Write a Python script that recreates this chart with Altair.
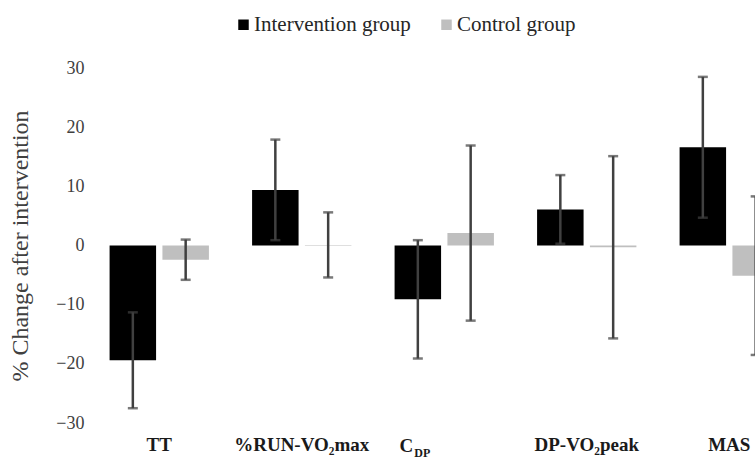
import altair as alt
import pandas as pd

categories = ["TT", "%RUN-VO2max", "C_DP", "DP-VO2peak", "MAS"]
display_labels = ["TT", "%RUN-VO\u2082max", "", "DP-VO\u2082peak", "MAS"]
groups = ["Intervention group", "Control group"]
intervention_mean = [-19.4, 9.4, -9.1, 6.1, 16.6]
intervention_err = [8.1, 8.5, 10.0, 5.8, 11.9]
control_mean = [-2.4, 0.1, 2.1, -0.3, -5.1]
control_err = [3.4, 5.5, 14.8, 15.4, 13.4]
y_ticks = [-30, -20, -10, 0, 10, 20, 30]

rows = []
for i, c in enumerate(categories):
    rows.append({"cat": c, "group": groups[0], "mean": intervention_mean[i],
                 "lo": intervention_mean[i] - intervention_err[i],
                 "hi": intervention_mean[i] + intervention_err[i]})
    rows.append({"cat": c, "group": groups[1], "mean": control_mean[i],
                 "lo": control_mean[i] - control_err[i],
                 "hi": control_mean[i] + control_err[i]})
df = pd.DataFrame(rows)

label_map = "{" + ",".join(f"'{c}':'{d}'" for c, d in zip(categories, display_labels)) + "}"

FONT = "Liberation Serif"
W, H = 667, 355

x_scale = alt.Scale(domain=categories, range=[0, alt.ExprRef("712.5")],
                    paddingInner=0.303, paddingOuter=0.1515)
x_enc = alt.X("cat:N", sort=categories, scale=x_scale,
              axis=alt.Axis(title=None, domain=False, ticks=False,
                            labelExpr=f"{label_map}[datum.value]",
                            labelFont=FONT, labelFontWeight="bold",
                            labelFontSize=19, labelColor="#1a1a1a",
                            labelPadding=12, labelAngle=0))
xo_enc = alt.XOffset("group:N", sort=groups,
                     scale=alt.Scale(domain=groups, paddingInner=0.12, paddingOuter=0))
y_scale = alt.Scale(domain=[-30, 30], nice=False)

bars = alt.Chart(df).mark_bar(clip=True).encode(
    x=x_enc,
    xOffset=xo_enc,
    y=alt.Y("mean:Q", scale=y_scale,
            axis=alt.Axis(title="% Change after intervention", values=y_ticks,
                          grid=False, domain=False, ticks=False,
                          labelExpr="replace(format(datum.value, 'd'), '-', '\u2212')",
                          labelFont=FONT, labelFontSize=18, labelColor="#404040",
                          labelPadding=4, titleFont=FONT, titleFontSize=24,
                          titleFontWeight="normal", titleColor="#404040",
                          titlePadding=23)),
    color=alt.Color("group:N", sort=groups,
                    scale=alt.Scale(domain=groups, range=["#000000", "#BFBFBF"]),
                    legend=alt.Legend(title=None, orient="none", legendX=145, legendY=-54,
                                      direction="horizontal", symbolType="square",
                                      symbolSize=110, symbolStrokeWidth=0,
                                      labelFont=FONT, labelFontSize=21,
                                      labelColor="#262626", columnPadding=25,
                                      labelOffset=0)),
)

rules = alt.Chart(df).mark_rule(color="#404040", strokeWidth=2.5, clip=True).encode(
    x=alt.X("cat:N", sort=categories), xOffset=xo_enc,
    y=alt.Y("lo:Q", scale=y_scale), y2="hi:Q")
caps_lo = alt.Chart(df).mark_tick(color="#404040", size=10, thickness=2.5, clip=True).encode(
    x=alt.X("cat:N", sort=categories), xOffset=xo_enc,
    y=alt.Y("lo:Q", scale=y_scale))
caps_hi = alt.Chart(df).mark_tick(color="#404040", size=10, thickness=2.5, clip=True).encode(
    x=alt.X("cat:N", sort=categories), xOffset=xo_enc,
    y=alt.Y("hi:Q", scale=y_scale))

sub_main = pd.DataFrame({"cat": ["C_DP"], "t": ["C"]})
sub_small = pd.DataFrame({"cat": ["C_DP"], "t": ["DP"]})
c_text = alt.Chart(sub_main).mark_text(font=FONT, fontWeight="bold", fontSize=19,
                                       align="right", baseline="alphabetic", dx=-31,
                                       color="#1a1a1a").encode(
    x=alt.X("cat:N", sort=categories), y=alt.value(H + 29), text="t:N")
dp_text = alt.Chart(sub_small).mark_text(font=FONT, fontWeight="bold", fontSize=12,
                                         align="left", baseline="alphabetic", dx=-30,
                                         color="#1a1a1a").encode(
    x=alt.X("cat:N", sort=categories), y=alt.value(H + 34), text="t:N")

chart = alt.layer(bars, rules, caps_lo, caps_hi, c_text, dp_text).properties(
    width=W, height=H,
    autosize=alt.AutoSizeParams(type="none"),
    padding={"left": 88, "top": 68, "right": 0, "bottom": 37},
).configure_view(stroke=None)

chart.save("out.html", embed_options={"renderer": "svg", "actions": False})
